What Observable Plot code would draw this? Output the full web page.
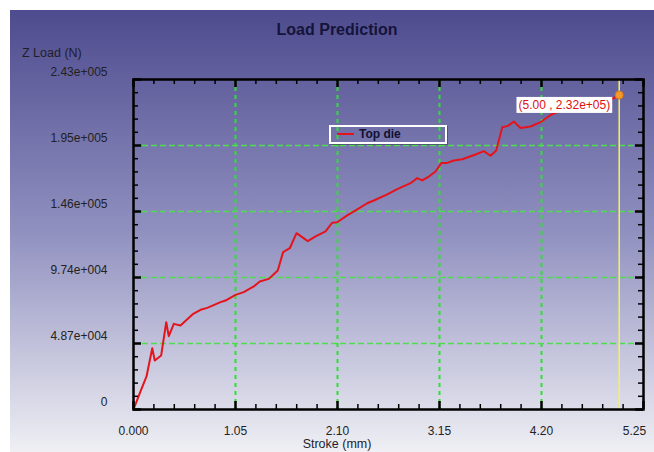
<!DOCTYPE html>
<html><head><meta charset="utf-8">
<script src="https://cdn.jsdelivr.net/npm/d3@7"></script>
<script src="https://cdn.jsdelivr.net/npm/@observablehq/plot@0.6"></script>
<style>
body{margin:0;background:#fff;font-family:"Liberation Sans",Arial,sans-serif;}
#wrap{position:relative;width:654px;height:452px;overflow:hidden;background:#fff;}
#bg{position:absolute;left:10px;top:10px;width:644px;height:442px;background:linear-gradient(#4e4b8e 0%,#9090c0 50%,#efeff4 100%);}
#title{position:absolute;left:237px;width:200px;top:21px;text-align:center;font-weight:bold;font-size:16px;color:#14143a;}
#ylab{position:absolute;left:22px;top:46px;font-size:12.5px;color:#1e1e2a;}
#xlab{position:absolute;left:287px;width:100px;top:437px;line-height:14px;text-align:center;font-size:12.5px;color:#1e1e2a;}
#chart{position:absolute;left:0;top:0;}
#legend{position:absolute;left:329px;top:125px;width:114px;height:15px;border:2px solid #fff;box-shadow:1px 1px 0 rgba(60,60,90,0.6);}
#legend .swatch{position:absolute;left:6px;top:6px;width:17px;height:2px;background:#e5141c;}
#legend .lbl{position:absolute;left:28px;top:0px;font-size:12px;line-height:15px;font-weight:bold;color:#111133;}
</style></head>
<body>
<div id="wrap">
  <div id="bg"></div>
  <div id="chart"></div>
  <div id="title">Load Prediction</div>
  <div id="ylab">Z Load (N)</div>
  <div id="xlab">Stroke (mm)</div>
  <div id="legend"><div class="swatch"></div><div class="lbl">Top die</div></div>
</div>
<script>
// Series: Top die
const strokeMm = [0, 0.072, 0.134, 0.193, 0.219, 0.285, 0.337, 0.363, 0.415, 0.484, 0.615, 0.690, 0.759, 0.896, 0.947,
  1.050, 1.135, 1.238, 1.300, 1.393, 1.485, 1.540, 1.609, 1.678, 1.794, 1.874, 1.977, 2.045, 2.097, 2.200, 2.303,
  2.406, 2.474, 2.612, 2.715, 2.852, 2.920, 2.972, 3.040, 3.109, 3.168, 3.222, 3.297, 3.384, 3.521, 3.606, 3.675,
  3.734, 3.796, 3.855, 3.915, 3.984, 4.087, 4.190, 4.293, 4.362, 4.602, 4.807, 4.928, 5.000];
const loadN = [0, 13300, 24400, 45200, 36200, 39900, 64400, 54100, 63200, 62000, 70600, 73600, 75000, 79200, 80400,
  84600, 86600, 90800, 94500, 96400, 102600, 116100, 119000, 130100, 124200, 127700, 131400, 137800, 138200, 143200, 147600,
  152200, 154200, 158700, 162600, 167000, 170700, 169000, 171900, 175600, 181800, 181800, 183700, 184700, 188200, 190600, 187200,
  191100, 208300, 209300, 212500, 207700, 208800, 212000, 217300, 219400, 223600, 227300, 229300, 232000];

// Axes
const xMajor = [0, 1.05, 2.10, 3.15, 4.20, 5.25];
const xMajorLabels = ["0.000", "1.05", "2.10", "3.15", "4.20", "5.25"];
const xMinor = [0.21, 0.42, 0.63, 0.84, 1.26, 1.47, 1.68, 1.89, 2.31, 2.52, 2.73, 2.94,
  3.36, 3.57, 3.78, 3.99, 4.41, 4.62, 4.83, 5.04];
const yMajor = [0, 48700, 97400, 146100, 194800, 243500];
const yMajorLabels = ["0", "4.87e+004", "9.74e+004", "1.46e+005", "1.95e+005", "2.43e+005"];
const yMinor = [9740, 19480, 29220, 38960, 58440, 68180, 77920, 87660, 107140, 116880, 126620, 136360,
  155840, 165580, 175320, 185060, 204540, 214280, 224020, 233760];

// Probe cursor
const probeX = [5.00];
const probeY = [232000];
const probeLabel = ["(5.00 , 2.32e+05)"];

const data = strokeMm.map((x, i) => ({x, y: loadN[i]}));
const probe = probeX.map((x, i) => ({x, y: probeY[i], label: probeLabel[i]}));
const xLab = d => xMajorLabels[xMajor.indexOf(d)];
const yLab = d => yMajorLabels[yMajor.indexOf(d)];

const W = 654, H = 452, mL = 133, mR = 11, mT = 79, mB = 43;
const plotW = W - mL - mR, plotH = H - mT - mB;

const chart = Plot.plot({
  width: W, height: H,
  marginLeft: mL, marginRight: mR, marginTop: mT, marginBottom: mB,
  style: {background: "transparent", fontFamily: "Liberation Sans, Arial, sans-serif", fontSize: "12px", overflow: "visible"},
  x: {domain: [0, 5.25], axis: null},
  y: {domain: [0, 243500], axis: null},
  marks: [
    Plot.ruleX(xMajor.slice(1, -1), {stroke: "#2fe02f", strokeWidth: 2, strokeDasharray: "4,4"}),
    Plot.ruleY(yMajor.slice(1, -1), {stroke: "#4fdc4f", strokeWidth: 1.3, strokeDasharray: "6,3"}),
    Plot.ruleX(probeX, {stroke: "#f4f45c", strokeWidth: 1.5}),
    Plot.line(data, {x: "x", y: "y", stroke: "#e5141c", strokeWidth: 2}),
    // inward ticks on all four sides
    Plot.tickX(xMajor, {x: d => d, insetTop: plotH - 8, stroke: "#000", strokeWidth: 2.5}),
    Plot.tickX(xMinor, {x: d => d, insetTop: plotH - 5, stroke: "#000", strokeWidth: 1.5}),
    Plot.tickX(xMajor, {x: d => d, insetBottom: plotH - 8, stroke: "#000", strokeWidth: 2.5}),
    Plot.tickX(xMinor, {x: d => d, insetBottom: plotH - 5, stroke: "#000", strokeWidth: 1.5}),
    Plot.tickY(yMajor, {y: d => d, insetRight: plotW - 8, stroke: "#000", strokeWidth: 2.5}),
    Plot.tickY(yMinor, {y: d => d, insetRight: plotW - 5, stroke: "#000", strokeWidth: 1.5}),
    Plot.tickY(yMajor, {y: d => d, insetLeft: plotW - 8, stroke: "#000", strokeWidth: 2.5}),
    Plot.tickY(yMinor, {y: d => d, insetLeft: plotW - 5, stroke: "#000", strokeWidth: 1.5}),
    // tick labels
    Plot.axisX(xMajor.slice(0, -1), {anchor: "bottom", label: null, tickSize: 0, tickPadding: 17, tickFormat: xLab, fill: "#222", fontSize: 12}),
    Plot.axisX(xMajor.slice(-1), {anchor: "bottom", label: null, tickSize: 0, tickPadding: 17, tickFormat: xLab, fill: "#222", fontSize: 12, dx: -9}),
    Plot.axisY(yMajor, {anchor: "left", label: null, tickSize: 0, tickPadding: 26, dy: -7, tickFormat: yLab, fill: "#222", fontSize: 12}),
    Plot.frame({stroke: "#000", strokeWidth: 2.5}),
    Plot.text(probe, {x: "x", y: "y", text: "label", textAnchor: "end", dx: -9, dy: 10, fill: "#e01010", fontSize: 12}),
    Plot.dot(probe, {x: "x", y: "y", r: 4, fill: "#f39a2a", stroke: "#d8741a", strokeWidth: 1})
  ]
});
document.getElementById("chart").appendChild(chart);

// white box behind the probe label
for (const t of chart.querySelectorAll("text")) {
  if (t.textContent === probeLabel[0]) {
    const b = t.getBBox();
    const r = document.createElementNS("http://www.w3.org/2000/svg", "rect");
    r.setAttribute("x", b.x - 2);
    r.setAttribute("y", b.y - 1);
    r.setAttribute("width", b.width + 4);
    r.setAttribute("height", b.height + 2);
    r.setAttribute("fill", "#fff");
    const tr = t.getAttribute("transform");
    if (tr) r.setAttribute("transform", tr);
    t.parentNode.insertBefore(r, t);
  }
}
</script>
</body></html>
